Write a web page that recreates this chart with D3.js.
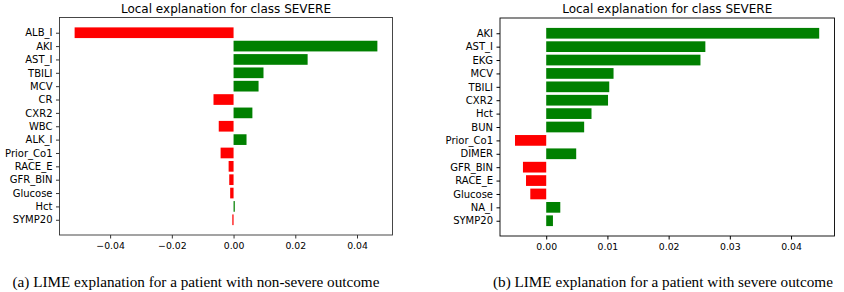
<!doctype html>
<html>
<head>
<meta charset="utf-8">
<script src="https://cdn.jsdelivr.net/npm/d3@7"></script>
<style>
  html, body { margin: 0; background: #fff; }
  svg { display: block; }
  .tick text { font-family: "DejaVu Sans", sans-serif; fill: #000; }
  .title { font-family: "DejaVu Sans", sans-serif; font-size: 12px; }
  .caption { font-family: "Liberation Serif", serif; font-size: 15.2px; }
</style>
</head>
<body>
<svg id="chart" width="844" height="292"></svg>
<script>
// panel (a): non-severe patient
const labelsA = ["ALB_I", "AKI", "AST_I", "TBILI", "MCV", "CR", "CXR2", "WBC", "ALK_I",
                 "Prior_Co1", "RACE_E", "GFR_BIN", "Glucose", "Hct", "SYMP20"];
const valuesA = [-0.0515, 0.0466, 0.0240, 0.0097, 0.0081, -0.0065, 0.0061, -0.0048, 0.0042,
                 -0.0042, -0.0016, -0.0014, -0.0011, 0.0004, -0.0004];
const ticksA = [-0.04, -0.02, 0, 0.02, 0.04];

// panel (b): severe patient
const labelsB = ["AKI", "AST_I", "EKG", "MCV", "TBILI", "CXR2", "Hct", "BUN", "Prior_Co1",
                 "DIMER", "GFR_BIN", "RACE_E", "Glucose", "NA_I", "SYMP20"];
const valuesB = [0.0446, 0.0260, 0.0252, 0.0110, 0.0103, 0.0101, 0.0074, 0.0062, -0.0051,
                 0.0049, -0.0038, -0.0033, -0.0026, 0.0023, 0.0011];
const ticksB = [0, 0.01, 0.02, 0.03, 0.04];

const svg = d3.select("#chart");

function panel(o) {
  const x = d3.scaleLinear().domain(o.domain).range([o.left, o.right]);
  const n = o.labels.length;
  // matplotlib barh: bars at 0..n-1, height 0.8, 5% margins
  const y = d3.scaleLinear().domain([-1.14, n - 1 + 1.14]).range([o.top, o.bottom]);
  const g = svg.append("g");

  g.selectAll("rect.bar")
    .data(o.values)
    .join("rect")
      .attr("class", "bar")
      .attr("x", d => x(Math.min(0, d)))
      .attr("width", d => Math.abs(x(d) - x(0)))
      .attr("y", (d, i) => y(i - 0.4))
      .attr("height", y(0.8) - y(0))
      .attr("fill", d => d > 0 ? "#008000" : "#ff0000");

  g.append("rect")
      .attr("x", o.left).attr("y", o.top)
      .attr("width", o.right - o.left).attr("height", o.bottom - o.top)
      .attr("fill", "none").attr("stroke", o.spine).attr("stroke-width", 0.9);

  const xAxis = d3.axisBottom(x).tickValues(o.ticks).tickFormat(d3.format(".2f"))
      .tickSize(3.5).tickPadding(3.5);
  g.append("g")
      .attr("transform", `translate(0,${o.bottom})`)
      .call(xAxis)
      .call(a => a.select(".domain").remove())
      .call(a => a.selectAll("line").attr("stroke", o.spine))
      .call(a => a.selectAll("text").style("font-size", "9.3px")
        .text(d => d3.format(".2f")(d).replace("-", "\u2212")));

  const yAxis = d3.axisLeft(y).tickValues(d3.range(n)).tickFormat(i => o.labels[i])
      .tickSize(3.5).tickPadding(3.5);
  g.append("g")
      .attr("transform", `translate(${o.left},0)`)
      .call(yAxis)
      .call(a => a.select(".domain").remove())
      .call(a => a.selectAll("line").attr("stroke", o.spine))
      .call(a => a.selectAll("text").style("font-size", "10px"));

  g.append("text")
      .attr("class", "title")
      .attr("x", (o.left + o.right) / 2)
      .attr("y", 12.5)
      .attr("text-anchor", "middle")
      .text("Local explanation for class SEVERE");

  svg.append("text")
      .attr("class", "caption")
      .attr("x", o.capX)
      .attr("y", 286.5)
      .text(o.caption);
}

panel({
  labels: labelsA, values: valuesA, ticks: ticksA,
  domain: [-0.0564, 0.0515],
  left: 59.5, right: 392.5, top: 17.5, bottom: 235,
  spine: "#333",
  capX: 12.5,
  caption: "(a) LIME explanation for a patient with non-severe outcome"
});

panel({
  labels: labelsB, values: valuesB, ticks: ticksB,
  domain: [-0.00755, 0.0471],
  left: 500, right: 834.5, top: 18, bottom: 236,
  spine: "#000",
  capX: 493,
  caption: "(b) LIME explanation for a patient with severe outcome"
});
</script>
</body>
</html>
